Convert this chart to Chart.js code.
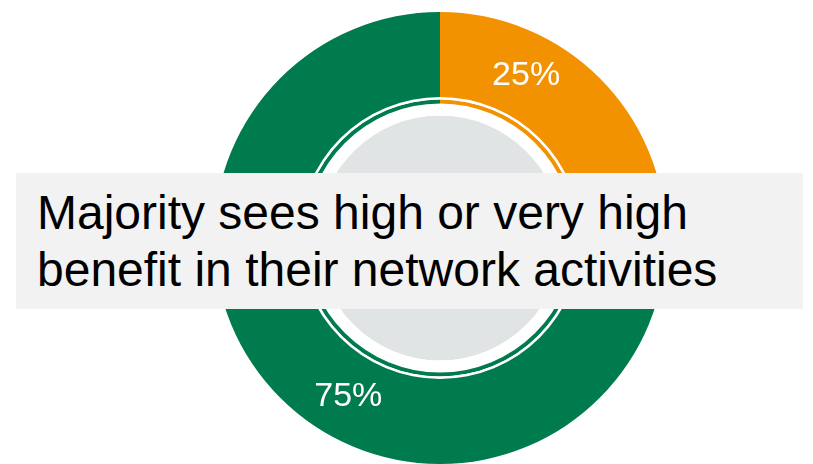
<!DOCTYPE html>
<html>
<head>
<meta charset="utf-8">
<script src="https://cdn.jsdelivr.net/npm/chart.js@4/dist/chart.umd.min.js"></script>
<style>
  html, body { margin: 0; padding: 0; background: #ffffff; }
  #wrap { position: relative; width: 813px; height: 464px; overflow: hidden; }
  #c { position: absolute; left: 0; top: 0; }
  #caption {
    position: absolute; left: 16px; top: 173px; width: 787px; height: 136px;
    background: #f2f2f2; box-sizing: border-box; padding: 11px 0 0 21px;
    font-family: "Liberation Sans", Arial, sans-serif; font-size: 48px;
    line-height: 57px; color: #000000; white-space: nowrap;
  }
</style>
</head>
<body>
<div id="wrap">
  <canvas id="c" width="813" height="464"></canvas>
  <div id="caption">Majority sees high or very high<br>benefit in their network activities</div>
</div>
<script>
// Share of respondents by perceived benefit
const categories = ["Low or no benefit", "High or very high benefit"];
const shares = [25, 75];
const sliceColors = ["#f39200", "#007b4e"];
// Angle (degrees, clockwise from top) at which each percentage label sits
const labelAngles = [28, 210];

// Percentage labels placed at the middle of the outer ring
const sliceLabels = {
  id: "sliceLabels",
  afterDatasetsDraw(chart) {
    const meta = chart.getDatasetMeta(0);
    const ctx = chart.ctx;
    ctx.save();
    ctx.fillStyle = "#ffffff";
    ctx.font = '34px "Liberation Sans", Arial, sans-serif';
    ctx.textAlign = "center";
    ctx.textBaseline = "middle";
    meta.data.forEach((arc, i) => {
      const p = arc.getProps(["x", "y", "innerRadius", "outerRadius"], true);
      const r = (p.innerRadius + p.outerRadius) / 2;
      const a = (labelAngles[i] - 90) * Math.PI / 180;
      ctx.fillText(shares[i] + "%", p.x + r * Math.cos(a), p.y + r * Math.sin(a));
    });
    ctx.restore();
  }
};

new Chart(document.getElementById("c"), {
  type: "doughnut",
  data: {
    labels: categories,
    datasets: [
      { data: shares, backgroundColor: sliceColors, borderWidth: 0, weight: 85 },
      { data: [100], backgroundColor: ["#ffffff"], borderWidth: 0, weight: 2.5 },
      { data: shares, backgroundColor: sliceColors, borderWidth: 0, weight: 4 },
      { data: [100], backgroundColor: ["#ffffff"], borderWidth: 0, weight: 12 },
      { data: [100], backgroundColor: ["#e1e4e4"], borderWidth: 0, weight: 122.5 }
    ]
  },
  options: {
    responsive: false,
    animation: false,
    cutout: 0,
    layout: { padding: { left: 67, right: 0, top: 12, bottom: 0 } },
    plugins: { legend: { display: false }, tooltip: { enabled: false } }
  },
  plugins: [sliceLabels]
});
</script>
</body>
</html>
